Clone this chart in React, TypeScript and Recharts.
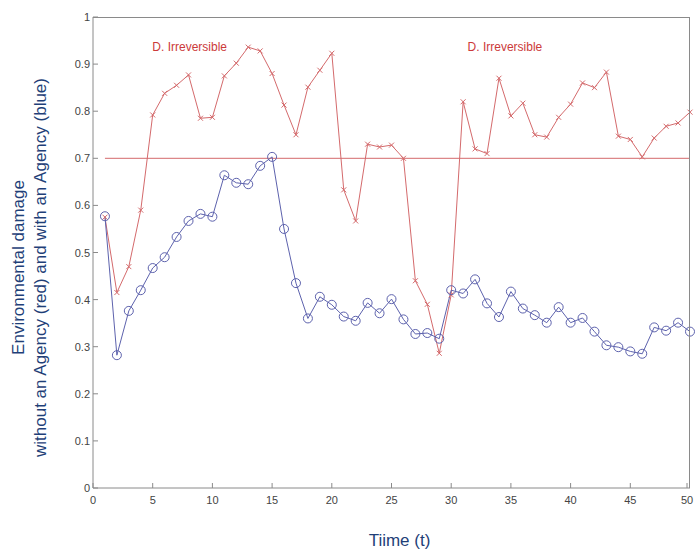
import {
  LineChart,
  Line,
  XAxis,
  YAxis,
  ReferenceLine,
  ReferenceDot,
} from "recharts";

const times = [
  1, 2, 3, 4, 5, 6, 7, 8, 9, 10, 11, 12, 13, 14, 15, 16, 17, 18, 19, 20, 21, 22, 23, 24, 25,
  26, 27, 28, 29, 30, 31, 32, 33, 34, 35, 36, 37, 38, 39, 40, 41, 42, 43, 44, 45, 46, 47, 48, 49, 50,
];

// without an agency (red)
const withoutAgency = [
  0.575, 0.415, 0.47, 0.59, 0.792, 0.838, 0.855, 0.877, 0.785, 0.787,
  0.875, 0.902, 0.936, 0.928, 0.88, 0.813, 0.75, 0.851, 0.887, 0.923,
  0.633, 0.567, 0.73, 0.724, 0.728, 0.7, 0.44, 0.39, 0.286, 0.41,
  0.82, 0.72, 0.71, 0.87, 0.79, 0.817, 0.75, 0.745, 0.787, 0.815,
  0.86, 0.85, 0.883, 0.747, 0.74, 0.703, 0.743, 0.768, 0.775, 0.798,
];

// with an agency (blue)
const withAgency = [
  0.577, 0.282, 0.376, 0.42, 0.467, 0.49, 0.533, 0.567, 0.582, 0.576,
  0.664, 0.648, 0.645, 0.684, 0.703, 0.55, 0.435, 0.36, 0.406, 0.389,
  0.364, 0.355, 0.393, 0.371, 0.401, 0.358, 0.327, 0.329, 0.317, 0.42,
  0.413, 0.443, 0.392, 0.363, 0.417, 0.381, 0.367, 0.351, 0.384, 0.351,
  0.361, 0.332, 0.303, 0.299, 0.29, 0.285, 0.341, 0.334, 0.351, 0.332,
];

const threshold = 0.7;
const xTicks = [0, 5, 10, 15, 20, 25, 30, 35, 40, 45, 50];
const yTicks = [0, 0.1, 0.2, 0.3, 0.4, 0.5, 0.6, 0.7, 0.8, 0.9, 1];
const notes = [
  { t: 8.1, v: 0.937, text: "D. Irreversible" },
  { t: 34.5, v: 0.937, text: "D. Irreversible" },
];

const data = times.map((t, i) => ({ t, red: withoutAgency[i], blue: withAgency[i] }));

const RED = "#d46a6c";
const BLUE = "#5d62ad";
const AXIS = "#8a8a8a";
const TEXT_BLUE = "#1f3f78";
const FONT = "'Liberation Sans', Arial, sans-serif";

const W = 695;
const H = 552;
const M = { top: 17, right: 5, left: 93, bottom: 64 };

const BottomTick = ({ x, y, payload }: any) => (
  <g>
    <line x1={x} y1={y} x2={x} y2={y - 5} stroke={AXIS} />
    <text x={x} y={y + 16} textAnchor="middle" fontSize={11} fill="#444" fontFamily={FONT}>
      {payload.value}
    </text>
  </g>
);

const LeftTick = ({ x, y, payload }: any) => (
  <g>
    <line x1={x} y1={y} x2={x + 5} y2={y} stroke={AXIS} />
    <text x={x - 3} y={y + 4} textAnchor="end" fontSize={11} fill="#444" fontFamily={FONT}>
      {String(payload.value)}
    </text>
  </g>
);

const Cross = (props: any) => {
  const { cx, cy, index } = props;
  const s = 2.5;
  return (
    <path
      key={`x-${index}`}
      d={`M${cx - s},${cy - s}L${cx + s},${cy + s}M${cx - s},${cy + s}L${cx + s},${cy - s}`}
      stroke={RED}
      strokeWidth={1}
      fill="none"
    />
  );
};

const YLabel = ({ viewBox }: any) => {
  const cy = viewBox.y + viewBox.height / 2 + 15;
  return (
    <g fontFamily={FONT} fontSize={17} fill={TEXT_BLUE}>
      <text x={24} y={cy} transform={`rotate(-90 24 ${cy})`} textAnchor="middle">
        Environmental damage
      </text>
      <text x={46} y={cy} transform={`rotate(-90 46 ${cy})`} textAnchor="middle">
        without an Agency (red) and with an Agency (blue)
      </text>
    </g>
  );
};

const XLabel = ({ viewBox }: any) => (
  <text
    x={viewBox.x + viewBox.width / 2 + 8}
    y={viewBox.y + 58}
    textAnchor="middle"
    fontFamily={FONT}
    fontSize={17}
    fill={TEXT_BLUE}
  >
    Tiime (t)
  </text>
);

export default function App() {
  return (
    <div style={{ position: "absolute", left: 0, top: 0, width: W, height: H, background: "#fff" }}>
      <LineChart width={W} height={H} data={data} margin={{ top: M.top, right: M.right, left: 0, bottom: 0 }}>
        <XAxis
          dataKey="t"
          type="number"
          domain={[0, 50]}
          ticks={xTicks}
          height={M.bottom}
          tickSize={0}
          tickMargin={0}
          tick={<BottomTick />}
          axisLine={{ stroke: AXIS }}
          label={<XLabel />}
        />
        <YAxis
          type="number"
          domain={[0, 1]}
          ticks={yTicks}
          width={M.left}
          tickSize={0}
          tickMargin={0}
          tick={<LeftTick />}
          axisLine={{ stroke: AXIS }}
          label={<YLabel />}
        />
        <ReferenceLine
          segment={[
            { x: 1, y: threshold },
            { x: 50, y: threshold },
          ]}
          stroke={RED}
          strokeWidth={1}
        />
        <Line
          dataKey="red"
          stroke={RED}
          strokeWidth={1}
          dot={<Cross />}
          isAnimationActive={false}
        />
        <Line
          dataKey="blue"
          stroke={BLUE}
          strokeWidth={1}
          dot={{ r: 4.5, stroke: BLUE, strokeWidth: 1, fill: "none" }}
          isAnimationActive={false}
        />
        {notes.map((n, i) => (
          <ReferenceDot
            key={i}
            x={n.t}
            y={n.v}
            r={0}
            fill="none"
            stroke="none"
            label={{ value: n.text, position: "center", fill: "#cc3a3a", fontSize: 12, fontFamily: FONT }}
          />
        ))}
      </LineChart>
      {/* top and right frame of the plot box */}
      <div
        style={{
          position: "absolute",
          left: M.left,
          top: M.top,
          width: W - M.left - M.right,
          height: H - M.top - M.bottom,
          borderTop: `1px solid ${AXIS}`,
          borderRight: `1px solid ${AXIS}`,
          boxSizing: "border-box",
          pointerEvents: "none",
        }}
      />
    </div>
  );
}
